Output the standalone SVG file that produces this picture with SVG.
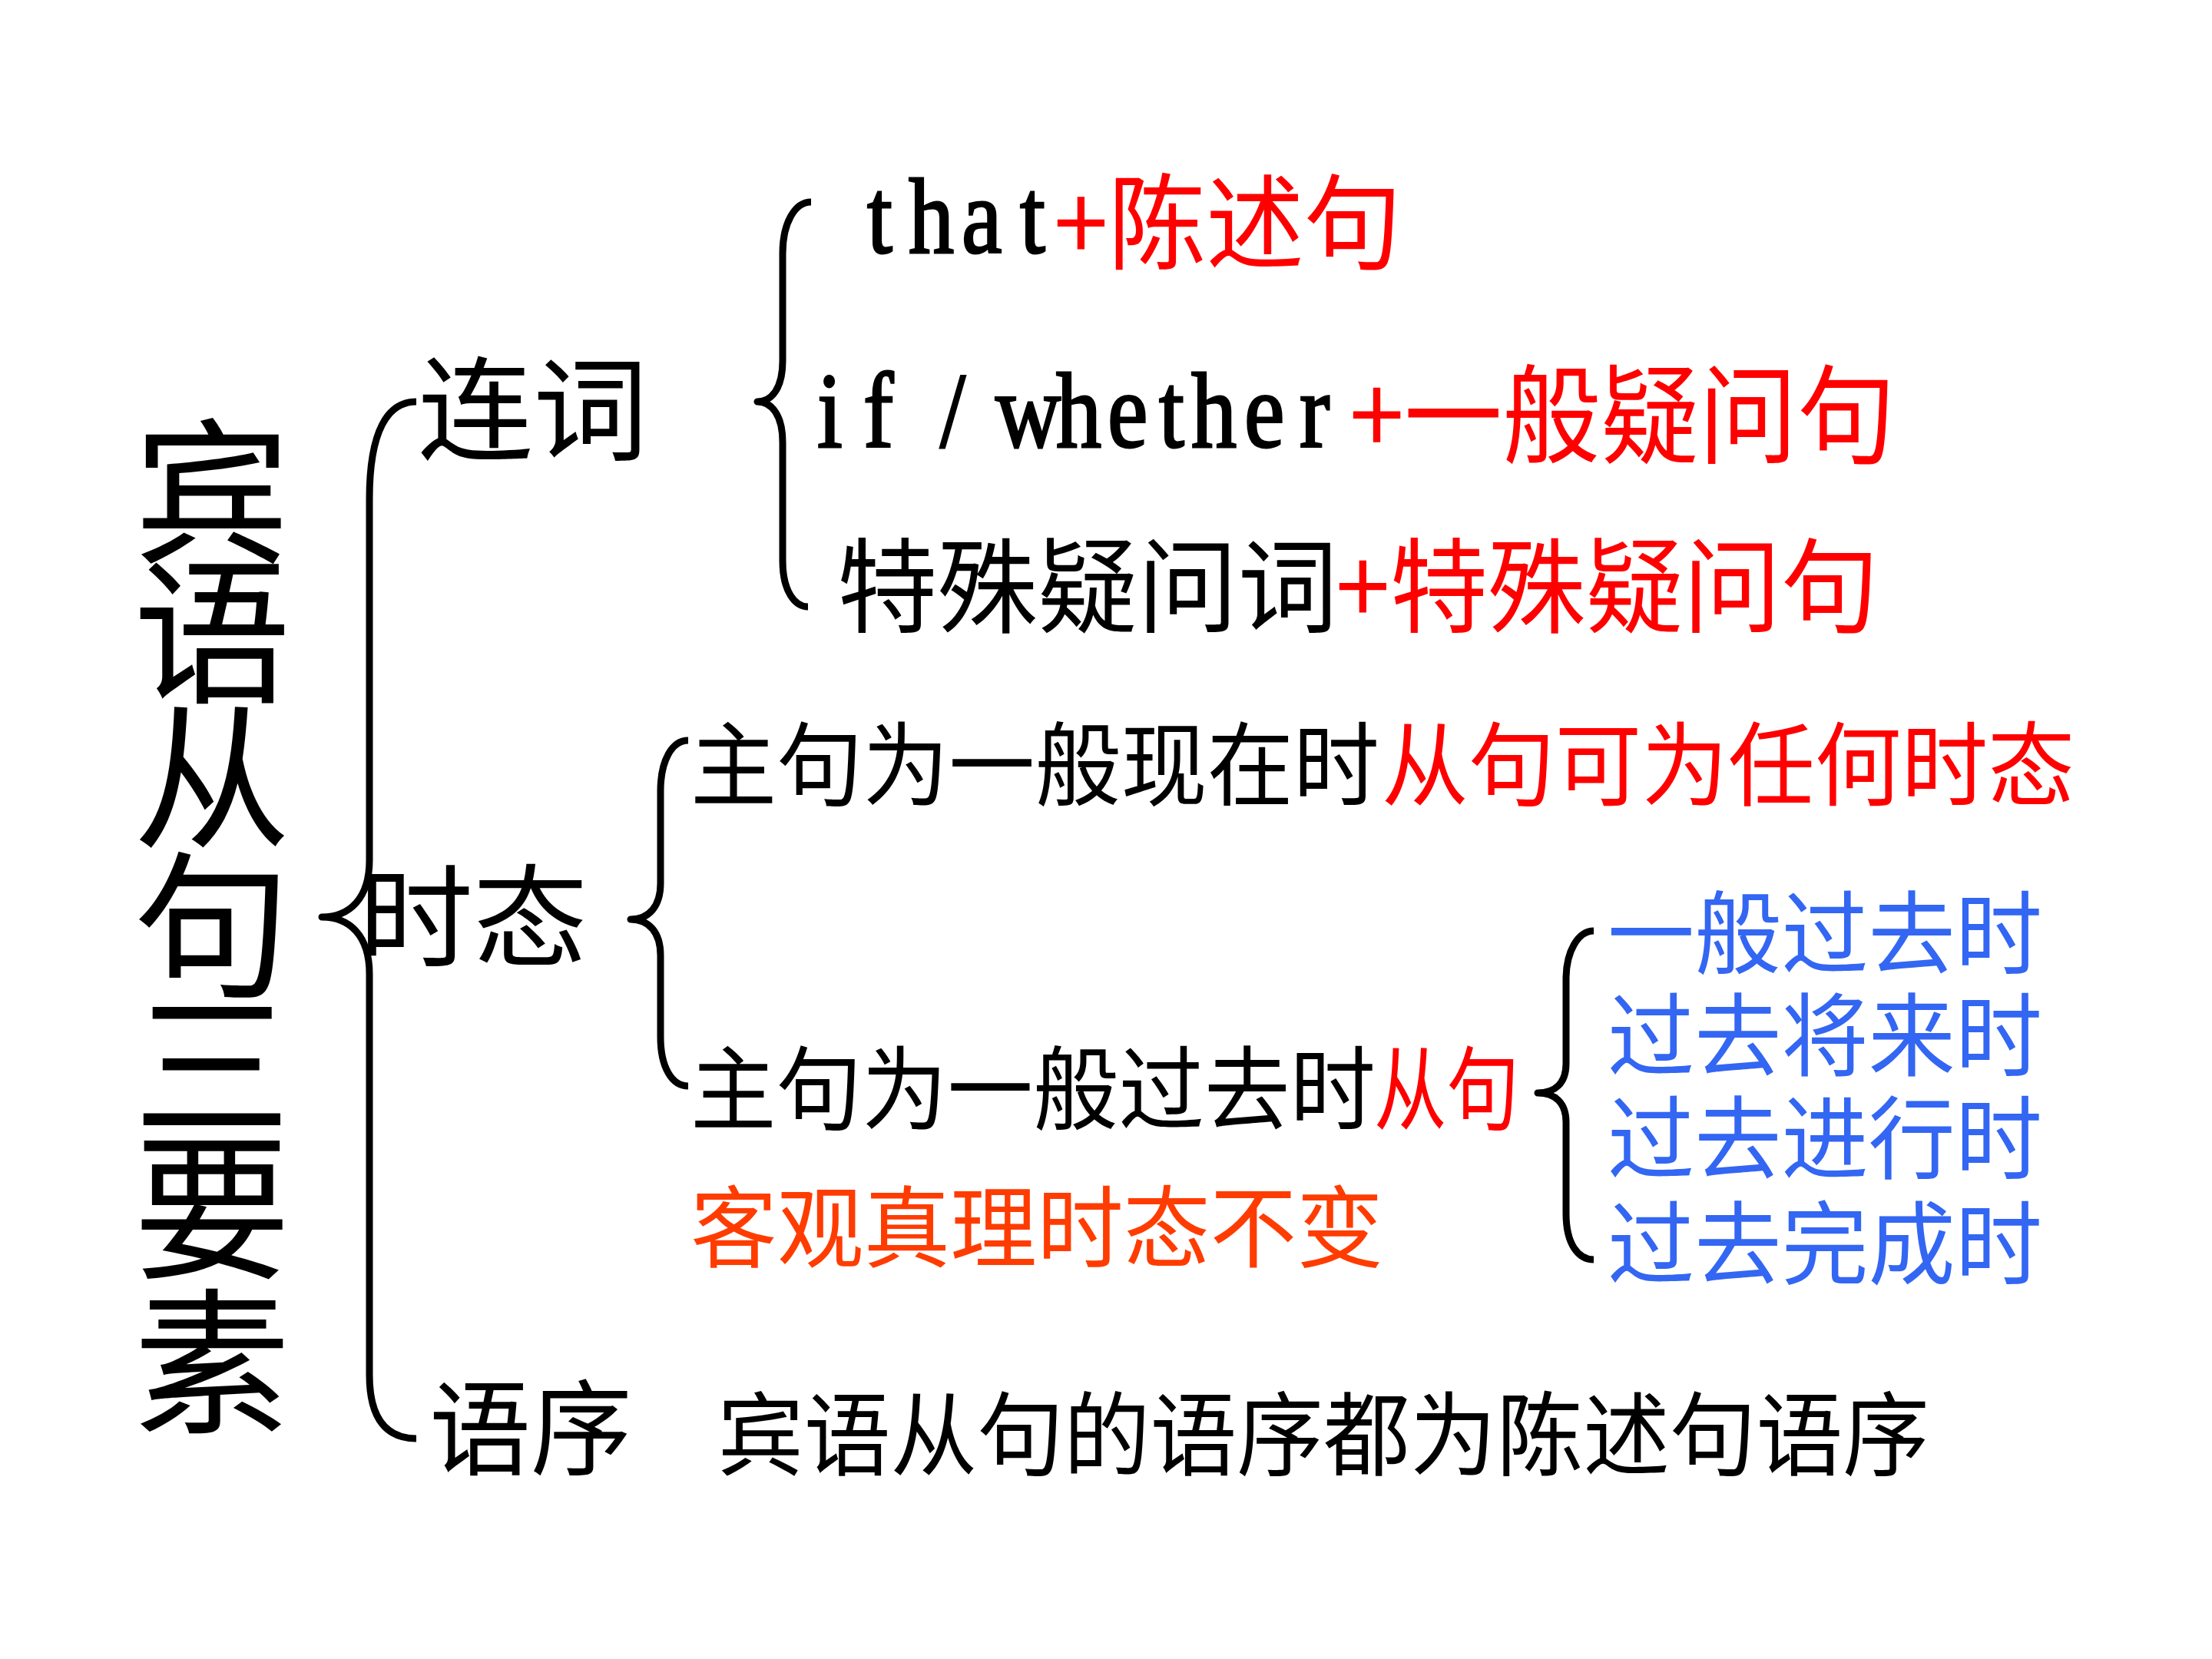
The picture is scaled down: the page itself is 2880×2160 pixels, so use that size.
<svg xmlns="http://www.w3.org/2000/svg" width="2880" height="2160" viewBox="0 0 2880 2160">
<style>
.cjk{font-family:"Noto Sans CJK SC","Noto Sans",sans-serif;font-weight:400}
.serif{font-family:"Liberation Serif","DejaVu Serif",serif;font-weight:400;stroke:#000;stroke-width:3}
.k{fill:#000}
.r{fill:#FF0000}
.o{fill:#FF3C00}
.b{fill:#3366F2}
.brace{fill:none;stroke:#000;stroke-width:9;stroke-linecap:butt;stroke-linejoin:round}
</style>
<rect width="2880" height="2160" fill="#fff"/>
<g id="connectors">
<path class="brace" d="M542,523 C505,523 481,560 481,650 L481,1120 C481,1170 455,1194 419,1194 C455,1194 481,1218 481,1268 L481,1790 C481,1850 505,1873 542,1873"/>
<path class="brace" d="M1056,263 C1035,263 1019,290 1019,330 L1019,470 C1019,505 1005,523 986,523 C1005,523 1019,541 1019,576 L1019,730 C1019,770 1035,790 1052,790"/>
<path class="brace" d="M896,964 C875,964 860,990 860,1030 L860,1150 C860,1180 845,1197 821,1197 C845,1197 860,1214 860,1244 L860,1350 C860,1390 875,1414 896,1414"/>
<path class="brace" d="M2075,1212 C2055,1212 2039,1238 2039,1275 L2039,1385 C2039,1410 2025,1423 2002,1423 C2025,1423 2039,1436 2039,1461 L2039,1580 C2039,1620 2055,1640 2075,1640"/>
</g>
<g id="title" class="cjk k" font-size="205" text-anchor="middle" font-weight="500">
<text x="276" y="717">宾</text>
<text x="276" y="899">语</text>
<text x="276" y="1088">从</text>
<text x="276" y="1281">句</text>
<text x="276" y="1463">三</text>
<text x="276" y="1648">要</text>
<text x="276" y="1850">素</text>
</g>
<g id="lianci">
<text class="cjk k" x="544" y="587" font-size="147" textLength="300" lengthAdjust="spacingAndGlyphs">连词</text>
</g>
<g id="shitai">
<text class="cjk k" x="467" y="1248" font-size="145" textLength="298" lengthAdjust="spacingAndGlyphs">时态</text>
</g>
<g id="yuxu">
<text class="cjk k" x="559" y="1910" font-size="135" textLength="264" lengthAdjust="spacingAndGlyphs">语序</text>
</g>
<g id="that">
<text class="serif k" transform="scale(0.85,1)" x="1328.2 1391.8 1472.9 1562.4" y="329" font-size="139">that</text>
<text class="cjk r" x="1372" y="340" font-size="135" textLength="453" lengthAdjust="spacingAndGlyphs">+陈述句</text>
</g>
<g id="ifwhether">
<text class="serif k" transform="scale(0.85,1)" x="1251.8 1322.4 1388 1440 1488 1524.7 1617.6 1696.5 1775.3 1824.7 1905.9 1990.6" y="582" font-size="139">if / whether</text>
<text class="cjk r" x="1757" y="592" font-size="140" textLength="711" lengthAdjust="spacingAndGlyphs">+一般疑问句</text>
</g>
<g id="teshu">
<text class="cjk k" x="1090" y="813" font-size="134" textLength="652" lengthAdjust="spacingAndGlyphs">特殊疑问词</text>
<text class="cjk r" x="1739" y="813" font-size="134" textLength="707" lengthAdjust="spacingAndGlyphs">+特殊疑问句</text>
</g>
<g id="xianzai">
<text class="cjk k" x="899" y="1040" font-size="119" textLength="897" lengthAdjust="spacingAndGlyphs">主句为一般现在时</text>
<text class="cjk r" x="1799" y="1040" font-size="119" textLength="902" lengthAdjust="spacingAndGlyphs">从句可为任何时态</text>
</g>
<g id="guoqu">
<text class="cjk k" x="899" y="1462" font-size="119" textLength="892" lengthAdjust="spacingAndGlyphs">主句为一般过去时</text>
<text class="cjk r" x="1789" y="1462" font-size="119" textLength="189" lengthAdjust="spacingAndGlyphs">从句</text>
</g>
<g id="zhenli">
<text class="cjk o" x="899" y="1641" font-size="116" textLength="902" lengthAdjust="spacingAndGlyphs">客观真理时态不变</text>
</g>
<g id="tenses" class="cjk b" font-size="118">
<text x="2093" y="1259" textLength="566" lengthAdjust="spacingAndGlyphs">一般过去时</text>
<text x="2093" y="1392" textLength="566" lengthAdjust="spacingAndGlyphs">过去将来时</text>
<text x="2093" y="1526" textLength="566" lengthAdjust="spacingAndGlyphs">过去进行时</text>
<text x="2093" y="1663" textLength="566" lengthAdjust="spacingAndGlyphs">过去完成时</text>
</g>
<g id="yuxu-desc">
<text class="cjk k" x="934" y="1912" font-size="119" textLength="1578" lengthAdjust="spacingAndGlyphs">宾语从句的语序都为陈述句语序</text>
</g>
</svg>
